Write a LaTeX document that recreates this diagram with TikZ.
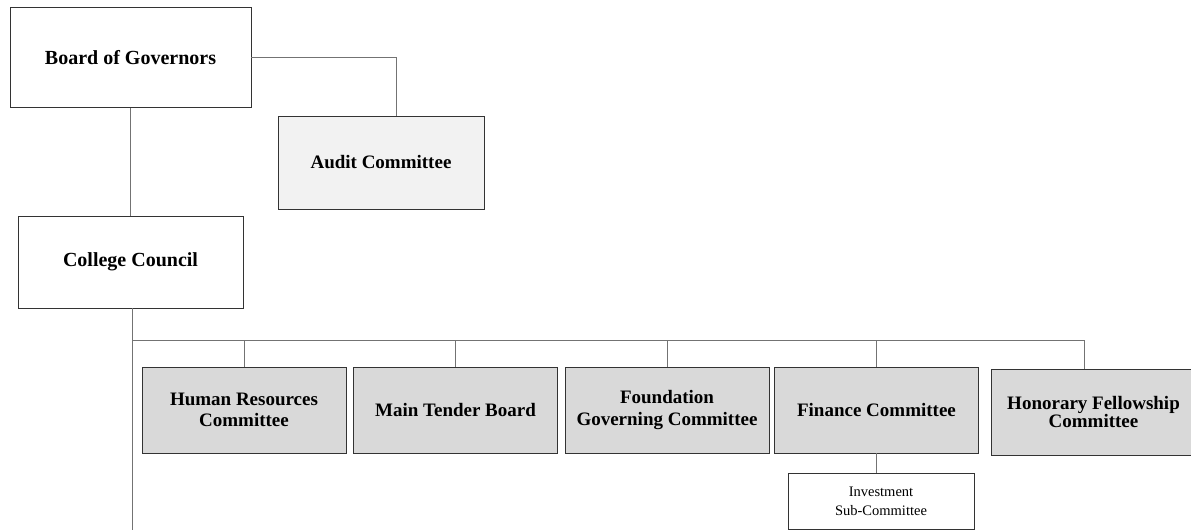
\documentclass[tikz,border=0pt]{standalone}
\usepackage{fontspec}
\setmainfont{Liberation Serif}
\usetikzlibrary{positioning,calc}
\definecolor{boxgray}{HTML}{D9D9D9}
\definecolor{auditgray}{HTML}{F2F2F2}

\begin{document}
\begin{tikzpicture}[x=1pt ,y=-1pt ,on grid ,
line width=0.9pt ,
unit/.style ={ rectangle ,draw=black!80 ,align=center ,inner sep=0pt ,
  font=\bfseries\fontsize{20}{22}\selectfont},
cttee/.style ={ unit ,fill=boxgray ,minimum width=204pt ,minimum height=86pt ,
  font=\bfseries\fontsize{19}{21.5}\selectfont},
subunit/.style ={ rectangle ,draw=black!80 ,align=center ,inner sep=0pt ,
  minimum width=186pt ,minimum height=56pt ,font=\fontsize{14.5}{19}\selectfont},
link/.style ={ draw=black!55 ,line width=0.8pt}]
\useasboundingbox (0,0) rectangle (1191,530);
\node[unit ,minimum width=241pt ,minimum height=100pt] (bog) at (130.5,57.5) {Board of Governors};
\node[unit ,fill=auditgray ,minimum width=206pt ,minimum height=93pt ,
  font=\bfseries\fontsize{19}{21}\selectfont] (audit) [below right = 105pt and 250.5pt of bog] {Audit Committee};
\node[unit ,minimum width=225pt ,minimum height=92pt] (council) [below = 204.5pt of bog] {College Council};
\node[cttee] (hr) [below right = 148pt and 113.5pt of council] {Human Resources\\Committee};
\node[cttee] (tender) [right = 211.5pt of hr] {Main Tender Board};
\node[cttee] (found) [right = 211.5pt of tender] {Foundation\\Governing Committee};
\node[cttee] (finance) [right = 209.5pt of found] {Finance Committee};
\node[cttee ,font=\bfseries\fontsize{19}{15}\selectfont] (honor) [right = 217pt of finance ,yshift=-2pt] {Honorary Fellowship\\Committee};
\node[subunit] (invest) [below = 91pt of finance ,xshift=4.5pt] {Investment\\Sub-Committee};
% connectors
\coordinate (bus) at (132,340);
\coordinate (trunkend) at (132,530);
\coordinate (honortop) at ($(honor.north)+(-9.5,0)$);
\draw[link] (bog) -- (council);
\draw[link] (bog.east) -| ($(audit.north)+(15,0)$);
\draw[link] (council.south -| trunkend) -- (trunkend);
\draw[link] (bus) -- (bus -| honortop) -- (honortop);
\foreach \n in {hr,tender,found,finance}
  \draw[link] (\n.north) -- (\n.north |- bus);
\draw[link] (finance.south) -- (finance.south |- invest.north);
\end{tikzpicture}
\end{document}
